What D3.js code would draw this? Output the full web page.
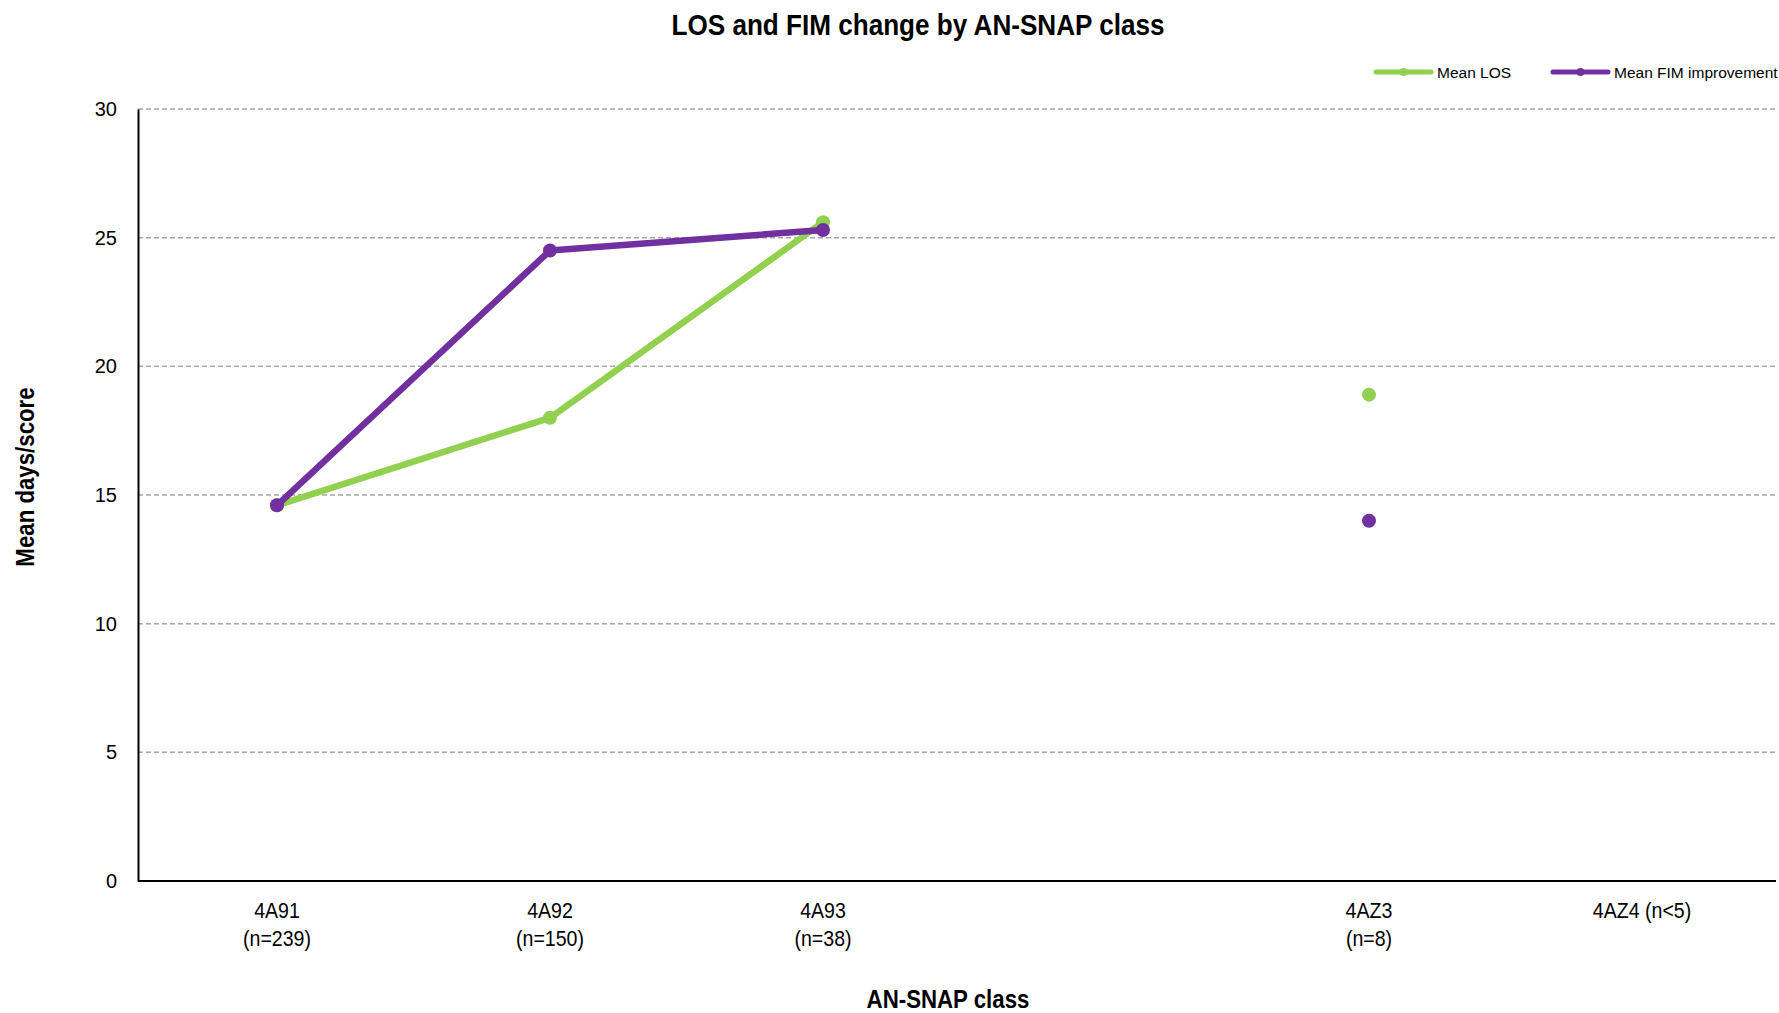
<!DOCTYPE html>
<html><head><meta charset="utf-8">
<script src="https://cdn.jsdelivr.net/npm/d3@7"></script>
<style>body{margin:0;background:#fff}svg{display:block}</style>
</head><body>
<svg id="c" width="1779" height="1013"></svg>
<script>
const categories = ["4A91", "4A92", "4A93", "", "4AZ3", "4AZ4"];
const categoryLabels = [["4A91", "(n=239)"], ["4A92", "(n=150)"], ["4A93", "(n=38)"], [""], ["4AZ3", "(n=8)"], ["4AZ4 (n<5)"]];
const meanLOS = [14.6, 18.0, 25.6, null, 18.9, null];
const meanFIM = [14.6, 24.5, 25.3, null, 14.0, null];
const yTicks = [0, 5, 10, 15, 20, 25, 30];
const seriesNames = ["Mean LOS", "Mean FIM improvement"];
const colors = ["#92D050", "#7030A0"];

const svg = d3.select("#c");
const L = 138, R = 1776, T = 109, B = 881;
const font = "'Liberation Sans',Arial,sans-serif";

const x = d3.scaleBand().domain(d3.range(categories.length)).range([L + 2.5, R + 2.5]);
const y = d3.scaleLinear().domain([0, 30]).range([B, T]);

// gridlines
svg.append("g").selectAll("line").data(yTicks.filter(t => t > 0)).join("line")
  .attr("x1", L).attr("x2", R).attr("y1", d => y(d)).attr("y2", d => y(d))
  .attr("stroke", "#A6A6A6").attr("stroke-width", 1.5).attr("stroke-dasharray", "5,3");

// y axis
const ya = svg.append("g").attr("transform", `translate(${L},0)`)
  .call(d3.axisLeft(y).tickValues(yTicks).tickSize(0).tickPadding(21));
ya.select(".domain").attr("stroke", "#000").attr("stroke-width", 2);
ya.selectAll("text").attr("font-family", font).attr("font-size", 20).attr("fill", "#000");

// x axis
const xa = svg.append("g").attr("transform", `translate(0,${B})`)
  .call(d3.axisBottom(x).tickSize(0).tickFormat(""));
xa.select(".domain").attr("stroke", "#000").attr("stroke-width", 2).attr("d", `M${L},0H${R}`);
xa.selectAll(".tick").each(function(d, i) {
  const t = d3.select(this).append("text").attr("fill", "#000")
    .attr("font-family", font).attr("font-size", 22).attr("text-anchor", "middle")
    .attr("transform", "scale(0.89,1)");
  categoryLabels[i].forEach((s, k) => {
    t.append("tspan").attr("x", 0).attr("y", 37 + k * 28).text(s);
  });
});

// series
const series = [meanLOS, meanFIM];
series.forEach((vals, si) => {
  const pts = vals.map((v, i) => ({i, v}));
  const line = d3.line().defined(d => d.v != null)
    .x(d => x(d.i) + x.bandwidth() / 2).y(d => y(d.v));
  svg.append("path").datum(pts).attr("d", line).attr("fill", "none")
    .attr("stroke", colors[si]).attr("stroke-width", 6.5).attr("stroke-linejoin", "round");
  svg.append("g").selectAll("circle").data(pts.filter(d => d.v != null)).join("circle")
    .attr("cx", d => x(d.i) + x.bandwidth() / 2).attr("cy", d => y(d.v))
    .attr("r", 7).attr("fill", colors[si]);
});

// title
svg.append("text").attr("transform", "translate(918,35) scale(0.87,1)").attr("text-anchor", "middle")
  .attr("font-family", font).attr("font-weight", "bold").attr("font-size", 30).text("LOS and FIM change by AN-SNAP  class");

// axis titles
svg.append("text").attr("transform", "translate(34,477) rotate(-90) scale(0.89,1)").attr("text-anchor", "middle")
  .attr("font-family", font).attr("font-weight", "bold").attr("font-size", 25).text("Mean days/score");
svg.append("text").attr("transform", "translate(948,1008) scale(0.89,1)").attr("text-anchor", "middle")
  .attr("font-family", font).attr("font-weight", "bold").attr("font-size", 25).text("AN-SNAP class");

// legend
const legX = [1376, 1553];
seriesNames.forEach((n, i) => {
  const g = svg.append("g").attr("transform", `translate(${legX[i]},72)`);
  g.append("line").attr("x1", 0).attr("x2", 55).attr("stroke", colors[i]).attr("stroke-width", 5).attr("stroke-linecap", "round");
  g.append("circle").attr("cx", 27.5).attr("r", 4).attr("fill", colors[i]);
  g.append("text").attr("x", 61).attr("y", 6).attr("font-family", font).attr("font-size", 15.5).text(n);
});
</script>
</body></html>
